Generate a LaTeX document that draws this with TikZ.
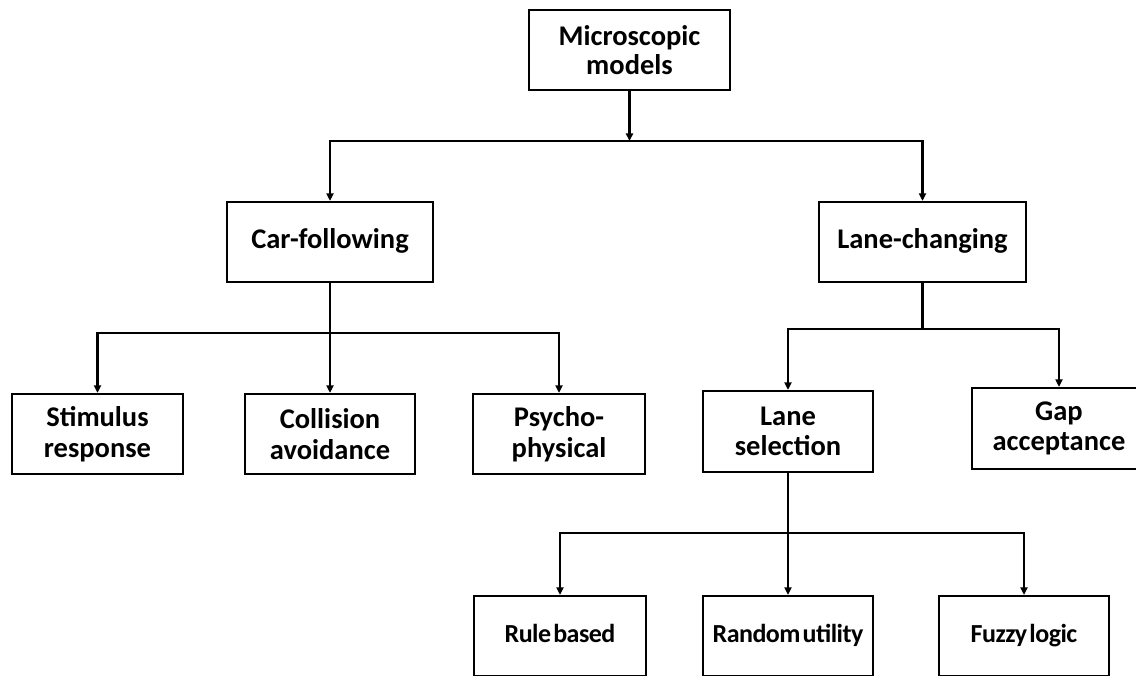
\documentclass[tikz,border=0pt]{standalone}
\usepackage{fontspec}
\setmainfont{Carlito}
\newfontfamily\tightfont[LetterSpace=-2,WordSpace=0.4]{Carlito}
\usetikzlibrary{arrows.meta}
\begin{document}
\begin{tikzpicture}[x=1pt,y=-1pt,
  box/.style={draw, line width=2.2pt, inner sep=0pt, align=center,
    font=\fontsize{28.5}{30.5}\selectfont\bfseries},
  tight/.style={font=\fontsize{26}{30}\selectfont\tightfont\bfseries},
  conn/.style={line width=2.2pt},
  arr/.style={line width=2.2pt, -{Triangle[length=7.5pt,width=7pt]}}]
\useasboundingbox[fill=white] (0,0) rectangle (1136,676);
% boxes
\node[box, minimum width=201pt, minimum height=80pt, font=\fontsize{28.5}{28.5}\selectfont\bfseries] (micro) at (629.5,50) {Microscopic\\models};
\node[box, minimum width=206pt, minimum height=80pt] (car) at (330,242) {\strut Car-following};
\node[box, minimum width=207pt, minimum height=80pt] (lane) at (922.5,242) {\strut Lane-changing};
\node[box, minimum width=171pt, minimum height=80pt] (stim) at (97.5,434) {Stimulus\\response};
\node[box, minimum width=170pt, minimum height=80pt] (coll) at (330,434) {Collision\\avoidance};
\node[box, minimum width=172pt, minimum height=80pt] (psycho) at (559,434) {Psycho-\\physical};
\node[box, minimum width=170pt, minimum height=81pt] (lanesel) at (788,431.5) {Lane\\selection};
\node[box, minimum width=174pt, minimum height=81pt] (gap) at (1059,428.5) {Gap\\acceptance};
\node[box, tight, minimum width=172pt, minimum height=80pt] (rule) at (560,636) {\strut Rule based};
\node[box, tight, minimum width=170pt, minimum height=80pt] (random) at (788,636) {\strut Random utility};
\node[box, tight, minimum width=170pt, minimum height=80pt] (fuzzy) at (1024,636) {\strut Fuzzy logic};
% bus points
\coordinate (b1) at (629.5,141);
\coordinate (b2) at (330,333);
\coordinate (b3) at (922.5,329);
\coordinate (b4) at (788,533);
% connectors
\draw[arr] (micro.south) -- (b1);
\draw[arr] (b1) -| (car.north);
\draw[arr] (b1) -| (lane.north);
\draw[conn] (car.south) -- (b2);
\draw[arr] (b2) -| (stim.north);
\draw[arr] (b2) -- (coll.north);
\draw[arr] (b2) -| (psycho.north);
\draw[conn] (lane.south) -- (b3);
\draw[arr] (b3) -| (lanesel.north);
\draw[arr] (b3) -| (gap.north);
\draw[conn] (lanesel.south) -- (b4);
\draw[arr] (b4) -| (rule.north);
\draw[arr] (b4) -- (random.north);
\draw[arr] (b4) -| (fuzzy.north);
\end{tikzpicture}
\end{document}
